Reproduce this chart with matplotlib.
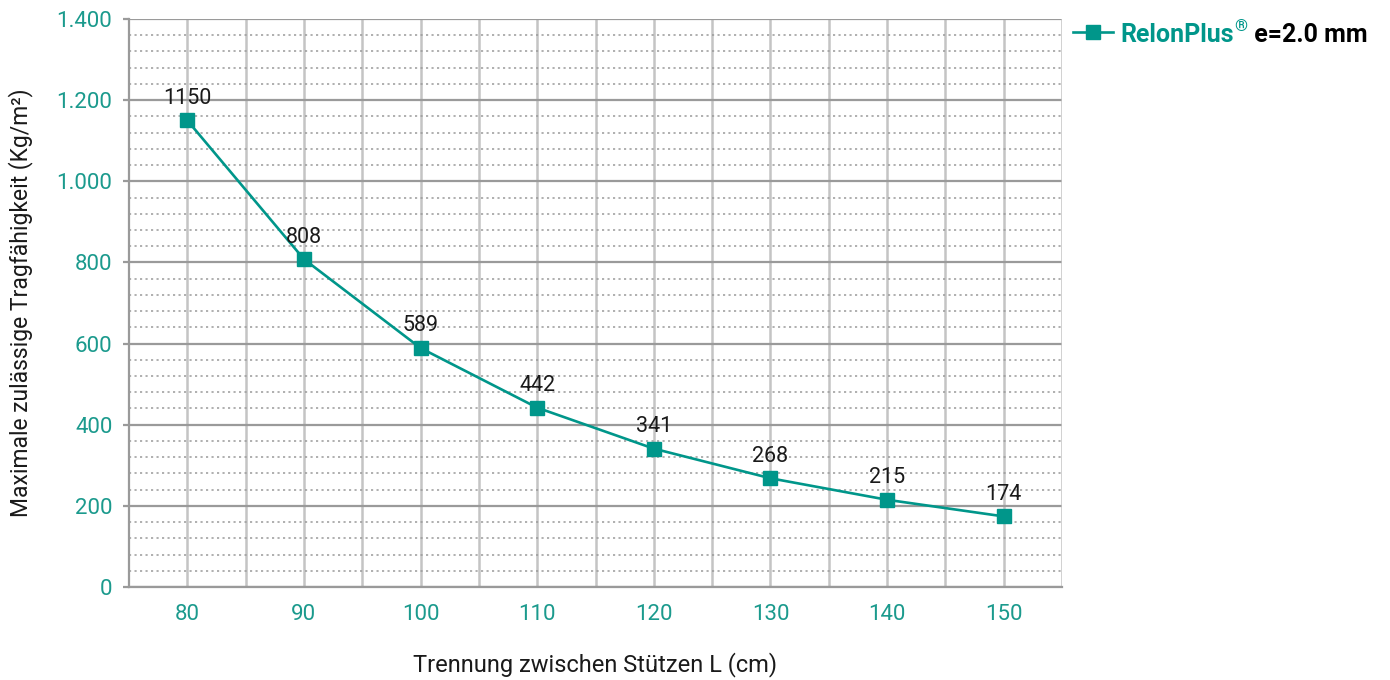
import matplotlib
matplotlib.use("Agg")
import matplotlib.pyplot as plt
from matplotlib.lines import Line2D
from matplotlib.ticker import MultipleLocator, FuncFormatter

plt.rcParams['font.family'] = ['Roboto', 'DejaVu Sans']

# Data
spans_cm = [80, 90, 100, 110, 120, 130, 140, 150]
load_kg_m2 = [1150, 808, 589, 442, 341, 268, 215, 174]
series_name = "RelonPlus"
series_suffix = " e=2.0 mm"
x_label = "Trennung zwischen Stützen L (cm)"
y_label = "Maximale zulässige Tragfähigkeit (Kg/m²)"

teal = "#00968a"
tick_teal = "#1b9a8d"
grid_major = "#9a9a9a"
grid_vert = "#c4c4c4"

fig = plt.figure(figsize=(13.9, 6.8), dpi=100)
ax = fig.add_axes([129 / 1390, 1 - 587 / 680, (1062 - 129) / 1390, (587 - 19) / 680])

pos = list(range(len(spans_cm)))
ax.plot(pos, load_kg_m2, color=teal, lw=1.9, marker='s', markersize=9.5,
        markerfacecolor=teal, markeredgecolor=teal, zorder=5, clip_on=False)

for p, v in zip(pos, load_kg_m2):
    ax.annotate(f"{v}", (p, v), xytext=(0, 12), textcoords='offset points',
                ha='center', va='baseline', fontsize=15.5, color='#1a1a1a', zorder=6)

ax.set_xlim(-0.5, len(spans_cm) - 0.5)
ax.set_ylim(0, 1400)

ax.set_xticks(pos)
ax.set_xticklabels([str(s) for s in spans_cm])
ax.set_xticks([p + 0.5 for p in pos[:-1]], minor=True)
ax.yaxis.set_major_locator(MultipleLocator(200))
ax.yaxis.set_minor_locator(MultipleLocator(40))
ax.yaxis.set_major_formatter(FuncFormatter(lambda v, _: f"{int(v):,}".replace(",", ".")))

# Grid lines
ax.grid(which='major', axis='x', color=grid_vert, lw=1.8)
ax.grid(which='minor', axis='x', color=grid_vert, lw=1.8)
ax.grid(which='major', axis='y', color=grid_major, lw=1.6)
ax.grid(which='minor', axis='y', color=grid_major, lw=1.1, linestyle=(0, (1.4, 2.2)))
ax.set_axisbelow(True)

for side in ('top', 'right'):
    ax.spines[side].set_visible(False)
ax.spines['left'].set_color(grid_major)
ax.spines['left'].set_linewidth(1.6)
ax.spines['bottom'].set_color(grid_major)
ax.spines['bottom'].set_linewidth(1.6)
# right border line drawn as a light vertical rule
ax.axvline(len(spans_cm) - 0.5, color=grid_vert, lw=1.8, zorder=1)

ax.tick_params(axis='y', which='major', length=4, width=1.6, color=grid_major,
               labelcolor=tick_teal, labelsize=16, pad=8)
ax.tick_params(axis='y', which='minor', length=0)
ax.tick_params(axis='x', which='both', length=0, labelcolor=tick_teal,
               labelsize=16, pad=12)

ax.set_xlabel(x_label, fontsize=17, color='#1a1a1a', labelpad=20)
ax.set_ylabel(y_label, fontsize=16.5, color='#1a1a1a', labelpad=17)

# Legend drawn at the top right, outside the plot area
ly = 1 - 32 / 680
fig.add_artist(Line2D([1073 / 1390, 1113 / 1390], [ly, ly], transform=fig.transFigure,
                      color=teal, lw=1.9, marker=None))
fig.add_artist(Line2D([1093 / 1390], [ly], transform=fig.transFigure, color=teal,
                      marker='s', markersize=9.5, linestyle='none'))

fig.canvas.draw()
renderer = fig.canvas.get_renderer()
t1 = fig.text(1120 / 1390, ly, series_name, color=teal, fontsize=18,
              fontweight='bold', va='center_baseline', ha='left')
bb = t1.get_window_extent(renderer)
t2 = fig.text(bb.x1 / fig.bbox.width + 1 / 1390, ly + 7 / 680, "®", color=teal,
              fontsize=12, fontweight='bold', va='center_baseline', ha='left')
bb2 = t2.get_window_extent(renderer)
fig.text(bb2.x1 / fig.bbox.width, ly, series_suffix, color='black', fontsize=18,
         fontweight='bold', va='center_baseline', ha='left')

fig.savefig("out.png", dpi=100)
